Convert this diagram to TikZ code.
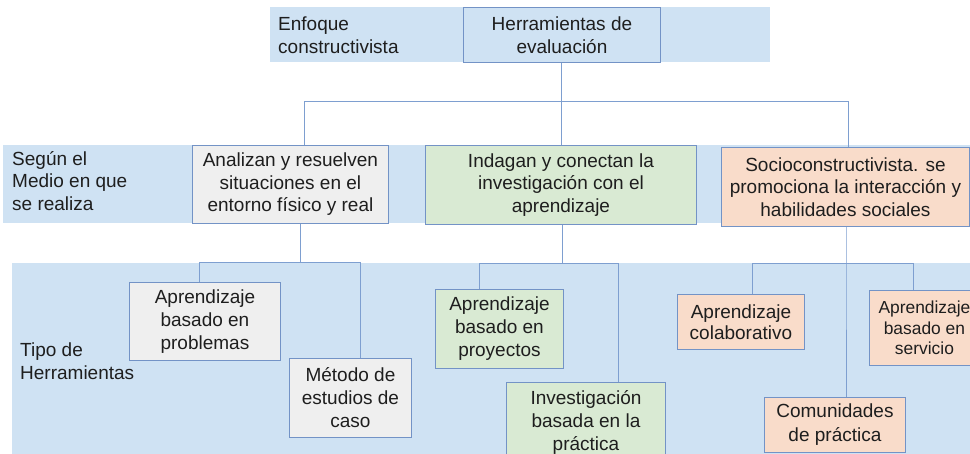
\documentclass[tikz,border=0pt]{standalone}
\usepackage{fontspec}
\setmainfont{Liberation Sans}
\definecolor{bandc}{HTML}{CFE2F3}
\definecolor{bordc}{HTML}{7393C6}
\definecolor{linec}{HTML}{7E9FD0}
\definecolor{grayc}{HTML}{EFEFEF}
\definecolor{greenc}{HTML}{D9EAD3}
\definecolor{orangec}{HTML}{F9DCCA}
\definecolor{txtc}{HTML}{1E1E1E}
\tikzset{
  bx/.style={draw=bordc, line width=0.9pt, inner sep=0pt, align=center, anchor=north west,
    text=txtc, font=\fontsize{19}{23}\selectfont},
  midbx/.style={bx, font=\fontsize{19}{22.5}\selectfont},
  sidelbl/.style={inner sep=0pt, align=left, anchor=west, text=txtc, font=\fontsize{19}{22.5}\selectfont},
  conn/.style={draw=linec, line width=1pt}
}
\begin{document}
\begin{tikzpicture}[x=1pt,y=-1pt]
\useasboundingbox (0,0) rectangle (970,454);
\fill[white] (0,0) rectangle (970,454);
% bands
\fill[bandc] (270,7) rectangle (770,62);
\fill[bandc] (3,145) rectangle (970,223);
\fill[bandc] (12,263) rectangle (970,454);

% side labels
\node[sidelbl] (enf) at (278,35) {Enfoque\\constructivista};
\node[sidelbl] (seg) at (12,181) {Según el\\Medio en que\\se realiza};
\node[sidelbl] (tipo) at (20,361) {Tipo de\\Herramientas};

% top box
\node[bx, fill=bandc, minimum width=197, minimum height=55] (herr) at (463,7) {Herramientas de\\evaluación};

% middle boxes
\node[midbx, fill=grayc, minimum width=196, minimum height=78] (analizan) at (192,145) {Analizan y resuelven\\situaciones en el\\entorno físico y real};
\node[midbx, fill=greenc, minimum width=271, minimum height=79] (indagan) at (425,145) {Indagan y conectan la\\investigación con el\\aprendizaje};
\node[midbx, fill=orangec, minimum width=248, minimum height=79] (socio) at (721,147) {Socioconstructivista. se\\promociona la interacción y\\habilidades sociales};

% bottom boxes
\node[bx, fill=grayc, minimum width=151, minimum height=78] (problemas) at (129,282) {Aprendizaje\\basado en\\problemas};
\node[bx, fill=grayc, minimum width=122, minimum height=79] (metodo) at (289,358) {Método de\\estudios de\\caso};
\node[bx, fill=greenc, minimum width=128, minimum height=79] (proyectos) at (435,289) {Aprendizaje\\basado en\\proyectos};
\node[bx, fill=greenc, minimum width=159, minimum height=80] (investig) at (506,382) {Investigación\\basada en la\\práctica};
\node[bx, fill=orangec, minimum width=127, minimum height=55, font=\fontsize{19}{21}\selectfont] (colab) at (677,294) {Aprendizaje\\colaborativo};
\node[bx, fill=orangec, minimum width=110, minimum height=75, font=\fontsize{17.4}{20.5}\selectfont] (servicio) at (869,290) {Aprendizaje\\basado en\\servicio};
\node[bx, fill=orangec, minimum width=141, minimum height=55, font=\fontsize{19}{24}\selectfont] (comunidades) at (764,397) {Comunidades\\de práctica};

% level 1 connectors
\coordinate (hL) at (304,102);
\coordinate (hR) at (848,102);
\draw[conn] (herr.south) -- (herr.south |- indagan.north);
\draw[conn] (hL |- analizan.north) -- (hL) -- (hR) -- (hR |- socio.north);

% level 2 connectors: gray
\coordinate (aM) at (300,263);
\coordinate (aL) at (199,263);
\coordinate (aR) at (360,263);
\draw[conn] (aM |- analizan.south) -- (aM);
\draw[conn] (aL |- problemas.north) -- (aL) -- (aR) -- (aR |- metodo.north);

% green
\coordinate (gM) at (562,264);
\coordinate (gL) at (479,264);
\coordinate (gR) at (618,264);
\draw[conn] (gM |- indagan.south) -- (gM);
\draw[conn] (gL |- proyectos.north) -- (gL) -- (gR) -- (gR |- investig.north);

% orange
\coordinate (oM) at (846,264);
\coordinate (oL) at (752,264);
\coordinate (oR) at (913,264);
\draw[conn] (oM |- socio.south) -- (oM) -- (oM |- comunidades.north);
\draw[conn] (oL |- colab.north) -- (oL) -- (oR) -- (oR |- servicio.north);
\end{tikzpicture}
\end{document}
